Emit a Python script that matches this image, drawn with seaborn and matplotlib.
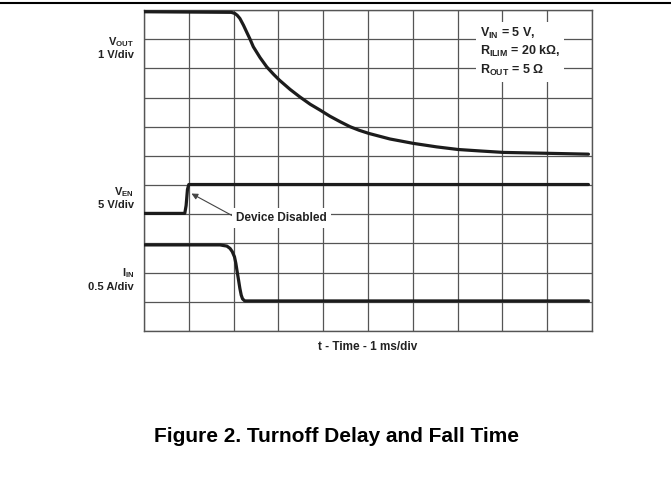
import numpy as np
import pandas as pd
import matplotlib
matplotlib.use("Agg")
import matplotlib.pyplot as plt
from matplotlib.lines import Line2D
import seaborn as sns

vout_t = [0.0, 1.0, 1.95, 2.03, 2.08, 2.14, 2.22, 2.29, 2.37, 2.44, 2.59, 2.74, 2.89,
          3.02, 3.26, 3.48, 3.71, 3.93, 4.15, 4.38, 4.60, 4.80, 5.02, 5.49, 6.01,
          6.53, 7.01, 7.50, 8.02, 8.99, 9.92]
vout_v = [10.94, 10.93, 10.92, 10.88, 10.82, 10.71, 10.48, 10.25, 9.99, 9.74, 9.37,
          9.05, 8.80, 8.60, 8.28, 8.02, 7.77, 7.57, 7.36, 7.17, 7.00, 6.88, 6.77,
          6.58, 6.43, 6.31, 6.22, 6.17, 6.12, 6.09, 6.06]

ven_t = [0.0, 0.91, 0.94, 0.97, 1.0, 2.0, 9.92]
ven_v = [4.03, 4.03, 4.30, 4.85, 5.02, 5.02, 5.02]

iin_t = [0.0, 1.70, 1.77, 1.85, 1.92, 1.97, 2.02, 2.05, 2.08, 2.11, 2.14, 2.17,
         2.20, 2.25, 9.92]
iin_v = [2.95, 2.95, 2.93, 2.91, 2.83, 2.72, 2.54, 2.32, 2.03, 1.75, 1.46, 1.23,
         1.10, 1.03, 1.03]

sns.set_style("white")
plt.rcParams["font.family"] = ["Liberation Sans", "DejaVu Sans"]
plt.rcParams["font.weight"] = "bold"
plt.rcParams["mathtext.fontset"] = "custom"
plt.rcParams["mathtext.rm"] = "Liberation Sans:bold"
plt.rcParams["mathtext.it"] = "Liberation Sans:bold"
plt.rcParams["mathtext.bf"] = "Liberation Sans:bold"

fig = plt.figure(figsize=(6.71, 4.93), dpi=100)
ax = fig.add_axes([0.2146, 0.3286, 0.6677, 0.6511])

grid_col = "#555555"
ax.set_xlim(0, 10)
ax.set_ylim(0, 11)
ax.set_xticks(np.arange(0, 11))
ax.set_yticks(np.arange(0, 12))
ax.grid(True, color=grid_col, lw=0.9)
ax.tick_params(length=0, labelbottom=False, labelleft=False)
for s in ax.spines.values():
    s.set_color(grid_col)
    s.set_linewidth(1.0)

trace = "#1c1c1c"
for t, v in [(vout_t, vout_v), (ven_t, ven_v), (iin_t, iin_v)]:
    sns.lineplot(x=t, y=v, ax=ax, color=trace, lw=2.3, sort=False, zorder=5)

# conditions box
ax.text(7.5, 10.45, "V$_{IN}$ = 5 V,\nR$_{ILIM}$ = 20 k\u03a9,\nR$_{OUT}$ = 5 \u03a9",
        fontsize=9, fontweight="bold", color="#222222", va="top", ha="left",
        linespacing=1.28, zorder=6,
        bbox=dict(facecolor="white", edgecolor="none", pad=3))

ax.annotate("Device Disabled", xy=(1.06, 4.71), xytext=(3.07, 3.88),
            fontsize=8.5, fontweight="bold", color="#222222", ha="center", va="center",
            zorder=6,
            bbox=dict(facecolor="white", edgecolor="none", pad=3),
            arrowprops=dict(arrowstyle="-|>", color="#444444", lw=0.8,
                            shrinkA=0, shrinkB=0, mutation_scale=9,
                            relpos=(0.0, 0.5)))

# channel labels
lab = dict(fontsize=8, fontweight="bold", color="#222222", ha="right", va="center")
fig.text(134 / 671, 1 - 41.7 / 493, "V$_{OUT}$", **lab)
fig.text(134 / 671, 1 - 55 / 493, "1 V/div", **lab)
fig.text(134 / 671, 1 - 191.7 / 493, "V$_{EN}$", **lab)
fig.text(134 / 671, 1 - 205 / 493, "5 V/div", **lab)
fig.text(134 / 671, 1 - 273 / 493, "I$_{IN}$", **lab)
fig.text(134 / 671, 1 - 286.7 / 493, "0.5 A/div", **lab)

fig.text(368 / 671, 1 - 347 / 493, "t - Time - 1 ms/div", fontsize=8.5,
         fontweight="bold", color="#222222", ha="center", va="center")

fig.text(336 / 671, 1 - 437 / 493, "Figure 2. Turnoff Delay and Fall Time",
         fontsize=15, fontweight="bold", color="black", ha="center", va="center")

fig.add_artist(Line2D([0, 1], [1 - 3 / 493, 1 - 3 / 493], color="black", lw=1.5,
                      transform=fig.transFigure))

fig.savefig("out.png", dpi=100)
